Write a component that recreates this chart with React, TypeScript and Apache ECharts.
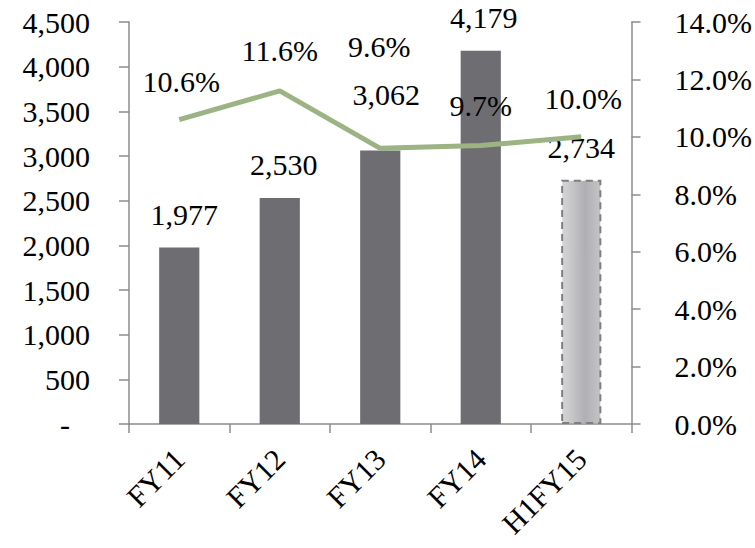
import React, { useEffect, useRef } from "react";
import * as echarts from "echarts";

const categories = ["FY11", "FY12", "FY13", "FY14", "H1FY15"];
const revenue = [1977, 2530, 3062, 4179, 2734];
const marginPct = [10.6, 11.6, 9.6, 9.7, 10.0];

// label nudges [dx, dy] for each point's value label
const revenueLabelOffsets = [
  [5, -18],
  [4, -18],
  [6, -41],
  [3, -18],
  [0, -17],
];
const marginLabelOffsets = [
  [2, -22],
  [0, -24],
  [-1, -86],
  [0, -24],
  [2, -22],
];

const FONT = "Liberation Serif";
const AXIS_COLOR = "#8c8c8c";

export default function App() {
  const ref = useRef<HTMLDivElement>(null);

  useEffect(() => {
    if (!ref.current) return;
    const chart = echarts.init(ref.current, null, { renderer: "svg" });

    const labelText = {
      fontFamily: FONT,
      fontSize: 30,
      color: "#000",
    };

    const barData = revenue.map((v, i) => {
      const item: any = {
        value: v,
        label: { offset: revenueLabelOffsets[i] },
      };
      if (i === revenue.length - 1) {
        item.itemStyle = {
          color: new echarts.graphic.LinearGradient(0, 0, 1, 0, [
            { offset: 0, color: "#d6d6d8" },
            { offset: 0.6, color: "#b0b0b4" },
            { offset: 1, color: "#c4c4c7" },
          ]),
          borderColor: "#7f7f7f",
          borderWidth: 2,
          borderType: [7, 5],
        };
      }
      return item;
    });

    const lineData = marginPct.map((v, i) => ({
      value: v,
      label: { offset: marginLabelOffsets[i] },
    }));

    chart.setOption({
      animation: false,
      textStyle: { fontFamily: FONT },
      grid: { left: 129, right: 122, top: 22, bottom: 124, containLabel: false },
      xAxis: {
        type: "category",
        data: categories,
        boundaryGap: true,
        axisLine: { show: true, lineStyle: { color: AXIS_COLOR, width: 1.5 } },
        axisTick: { show: true, length: 9, lineStyle: { color: AXIS_COLOR, width: 1.5 } },
        axisLabel: {
          ...labelText,
          rotate: 45,
          margin: 30,
          interval: 0,
        },
        splitLine: { show: false },
      },
      yAxis: [
        {
          type: "value",
          min: 0,
          max: 4500,
          interval: 500,
          position: "left",
          axisLine: { show: true, lineStyle: { color: AXIS_COLOR, width: 1.5 } },
          axisTick: { show: true, length: 10, lineStyle: { color: AXIS_COLOR, width: 1.5 } },
          splitLine: { show: false },
          axisLabel: {
            ...labelText,
            margin: 39,
            formatter: (v: number) =>
              v === 0 ? "{dash|-}" : v.toLocaleString("en-US"),
            rich: {
              dash: { ...labelText, padding: [0, 20, 0, 0] },
            },
          },
        },
        {
          type: "value",
          min: 0,
          max: 14,
          interval: 2,
          position: "right",
          axisLine: { show: true, lineStyle: { color: AXIS_COLOR, width: 1.5 } },
          axisTick: { show: true, length: 9, lineStyle: { color: AXIS_COLOR, width: 1.5 } },
          splitLine: { show: false },
          axisLabel: {
            ...labelText,
            margin: 43,
            formatter: (v: number) => v.toFixed(1) + "%",
          },
        },
      ],
      series: [
        {
          type: "bar",
          yAxisIndex: 0,
          data: barData,
          barWidth: "40%",
          itemStyle: { color: "#6e6d72" },
          label: {
            show: true,
            position: "top",
            distance: 0,
            ...labelText,
            lineHeight: 30,
            formatter: (p: any) => Number(p.value).toLocaleString("en-US"),
          },
          z: 2,
        },
        {
          type: "line",
          yAxisIndex: 1,
          data: lineData,
          symbol: "circle",
          symbolSize: 2,
          showSymbol: true,
          itemStyle: { color: "rgba(0,0,0,0)", borderWidth: 0 },
          lineStyle: { color: "#9cb384", width: 5 },
          label: {
            show: true,
            position: "top",
            distance: 0,
            ...labelText,
            lineHeight: 30,
            formatter: (p: any) => "{t|" + Number(p.value).toFixed(1) + "%}",
            rich: {
              t: { ...labelText, lineHeight: 30 },
            },
          },
          z: 3,
        },
      ],
    });

    return () => chart.dispose();
  }, []);

  return (
    <div
      ref={ref}
      style={{ position: "absolute", left: 0, top: 0, width: 755, height: 548, background: "#fff" }}
    />
  );
}
